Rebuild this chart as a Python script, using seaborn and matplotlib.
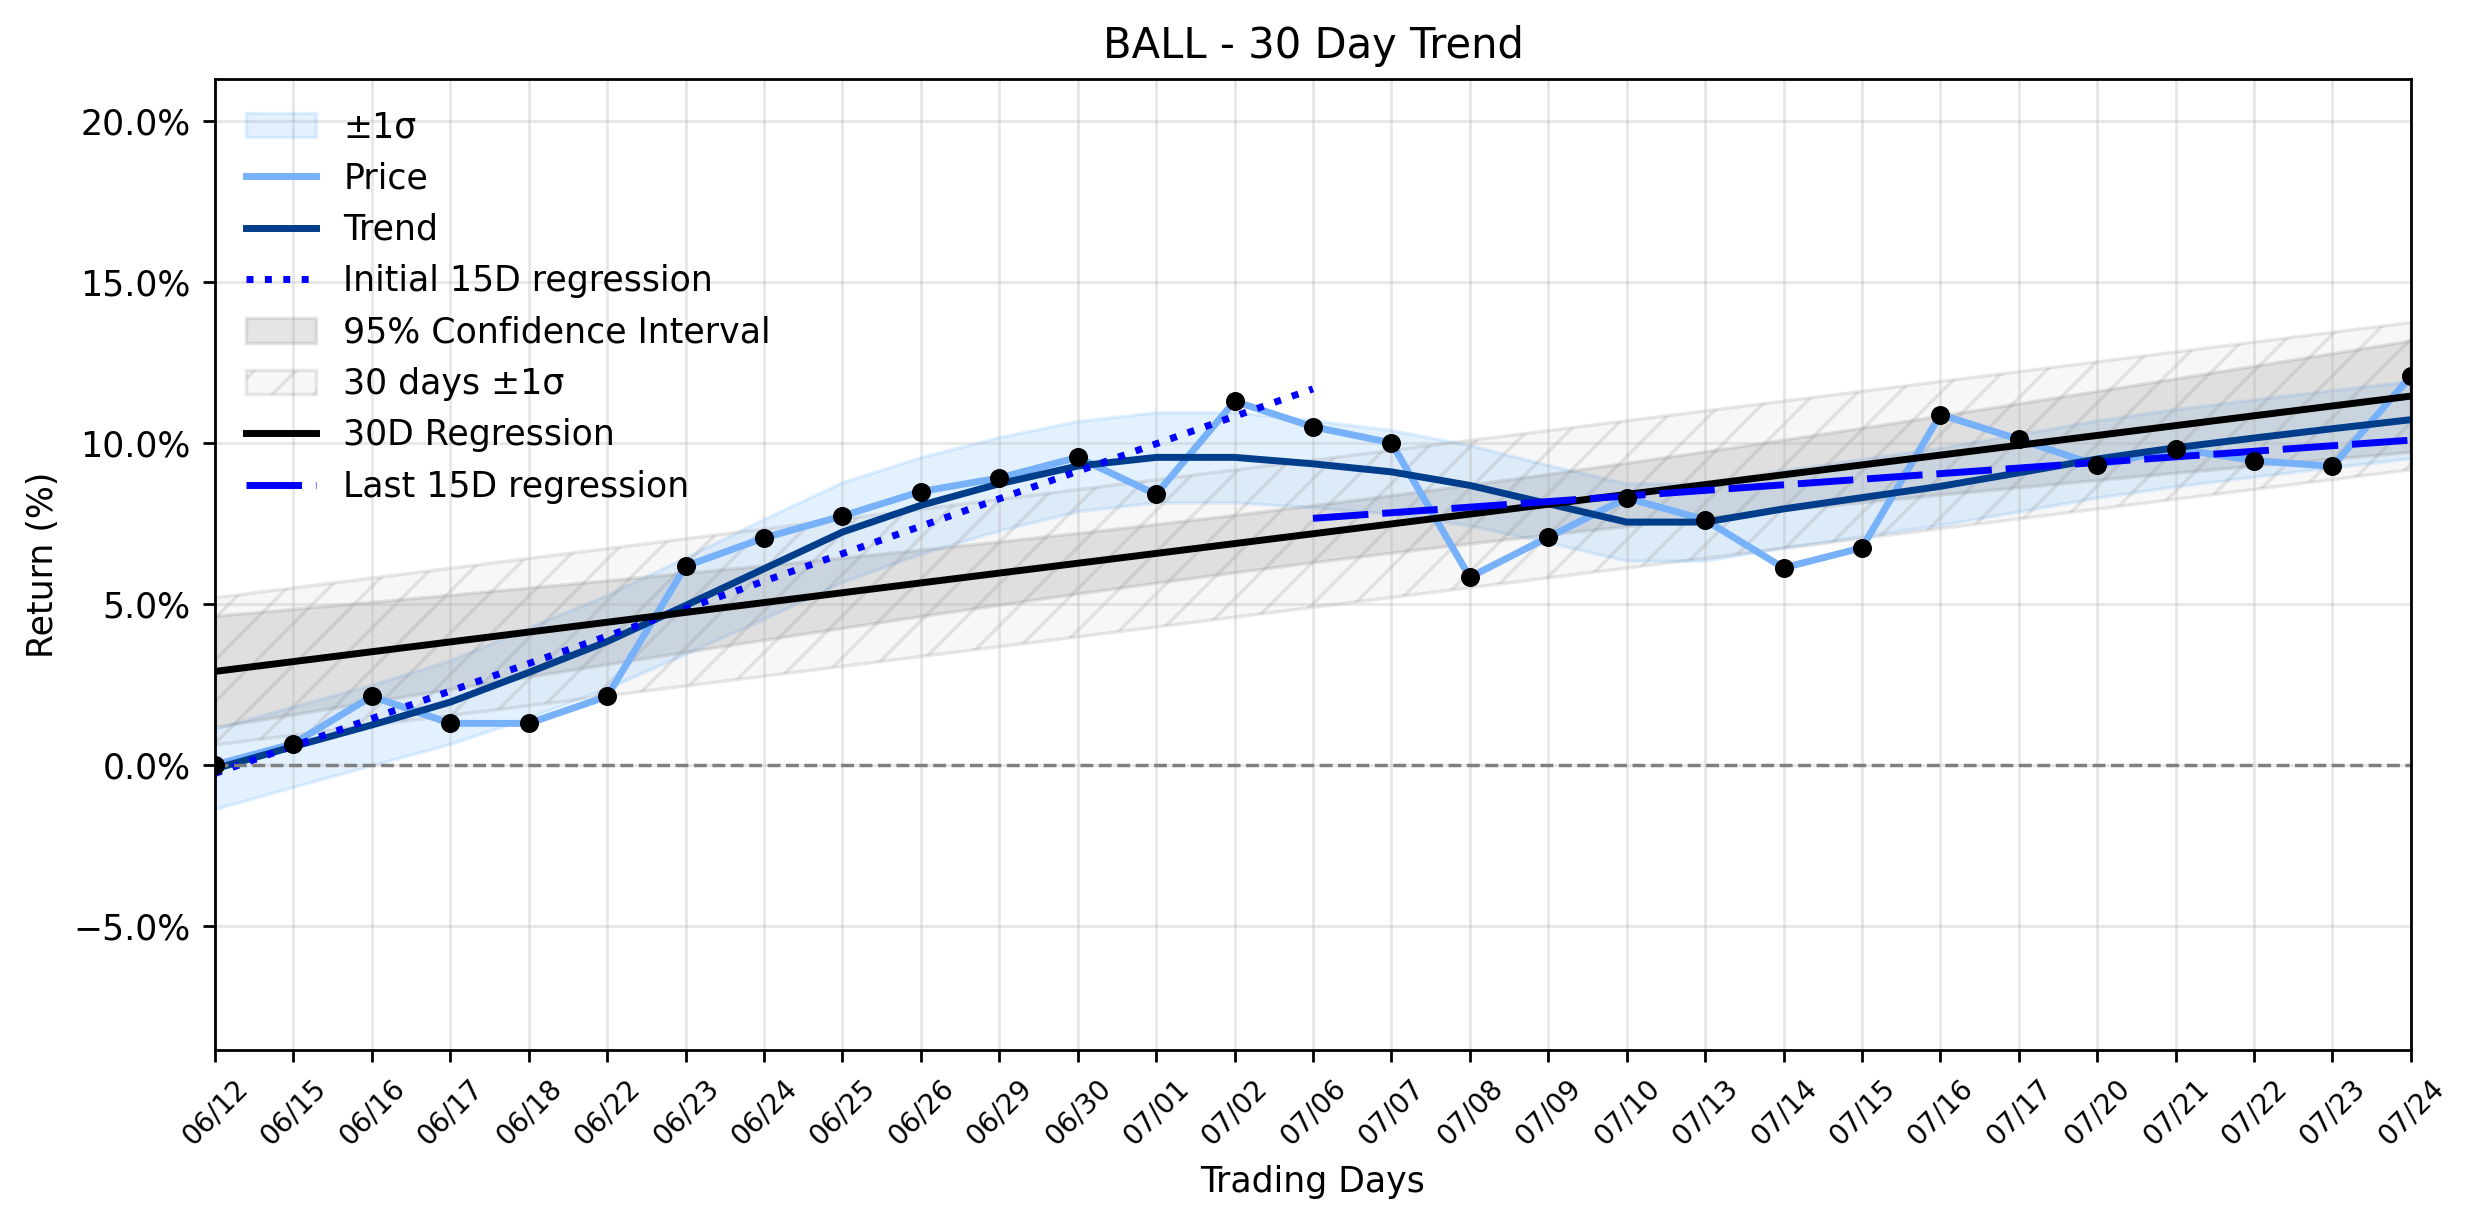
import numpy as np
import pandas as pd
import matplotlib
matplotlib.use("Agg")
import matplotlib.pyplot as plt
import seaborn as sns
from matplotlib.ticker import PercentFormatter
from matplotlib.colors import to_rgba

# ---------------- data ----------------
dates = ['06/12', '06/15', '06/16', '06/17', '06/18', '06/22', '06/23', '06/24',
         '06/25', '06/26', '06/29', '06/30', '07/01', '07/02', '07/06', '07/07',
         '07/08', '07/09', '07/10', '07/13', '07/14', '07/15', '07/16', '07/17',
         '07/20', '07/21', '07/22', '07/23', '07/24']

price = [0.00, 0.66, 2.13, 1.29, 1.29, 2.13, 6.17, 7.05, 7.73, 8.49, 8.91, 9.55,
         8.40, 11.29, 10.50, 10.00, 5.83, 7.07, 8.29, 7.61, 6.12, 6.74, 10.88,
         10.11, 9.30, 9.82, 9.45, 9.27, 12.08]

trend = [-0.12, 0.57, 1.24, 1.95, 2.87, 3.83, 4.95, 6.09, 7.23, 8.06, 8.73, 9.28,
         9.55, 9.55, 9.35, 9.10, 8.68, 8.11, 7.54, 7.54, 7.95, 8.30, 8.65, 9.07,
         9.50, 9.85, 10.15, 10.44, 10.72]

trend_sigma = [1.25, 1.25, 1.25, 1.30, 1.40, 1.45, 1.50, 1.55, 1.55, 1.50, 1.45,
               1.40, 1.40, 1.40, 1.35, 1.30, 1.25, 1.20, 1.20, 1.20, 1.20, 1.20,
               1.20, 1.20, 1.20, 1.20, 1.20, 1.20, 1.20]

window = 15
t_crit = 2.052  # 95% two-sided, 27 dof

# ---------------- derived ----------------
x = np.arange(len(dates))
p = np.array(price)
t = np.array(trend)
s = np.array(trend_sigma)
n = len(x)

c30 = np.polyfit(x, p, 1)
fit30 = np.polyval(c30, x)
resid = p - fit30
sd30 = resid.std(ddof=1)
se = np.sqrt(np.sum(resid ** 2) / (n - 2))
ci = t_crit * se * np.sqrt(1 / n + (x - x.mean()) ** 2 / np.sum((x - x.mean()) ** 2))

xi = x[:window]
ci0 = np.polyfit(xi, p[:window], 1)
xl = x[-window:]
cl = np.polyfit(xl, p[-window:], 1)

# ---------------- figure ----------------
DPI = 250
fig = plt.figure(figsize=(2474 / DPI, 1224 / DPI), dpi=DPI)
ax = fig.add_axes([0.0869, 0.1422, 0.9745 - 0.0869, 0.9355 - 0.1422])

ax.fill_between(x, t - s, t + s, color='#1E90FF', alpha=0.12, label='±1σ')
sns.lineplot(x=x, y=p, ax=ax, color='#77b1f9', lw=2, label='Price')
sns.lineplot(x=x, y=t, ax=ax, color='#003d8a', lw=2, label='Trend')
sns.lineplot(x=xi, y=np.polyval(ci0, xi), ax=ax, color='blue', lw=2,
             linestyle=':', label='Initial 15D regression')
ax.fill_between(x, fit30 - ci, fit30 + ci, color='gray', alpha=0.2,
                label='95% Confidence Interval')
ax.fill_between(x, fit30 - sd30, fit30 + sd30, facecolor=to_rgba('gray', 0.06),
                edgecolor=to_rgba('gray', 0.18), hatch='//', linewidth=1.0,
                label='30 days ±1σ')
sns.lineplot(x=x, y=fit30, ax=ax, color='black', lw=2, label='30D Regression')
sns.lineplot(x=xl, y=np.polyval(cl, xl), ax=ax, color='blue', lw=2,
             linestyle=(0, (8, 2)), label='Last 15D regression')

sns.scatterplot(x=x, y=p, ax=ax, color='black', s=30, linewidth=0, zorder=5)
ax.axhline(0, color='gray', linestyle='--', lw=1.0)

ax.set_xlim(0, n - 1)
ax.set_ylim(-8.85, 21.3)
ax.set_xticks(x)
ax.set_xticklabels(dates, rotation=45, fontsize=8)
ax.tick_params(axis='y', labelsize=10)
ax.yaxis.set_major_formatter(PercentFormatter(xmax=100, decimals=1))
ax.grid(True, alpha=0.3)
ax.set_title('BALL - 30 Day Trend', fontsize=12)
ax.set_xlabel('Trading Days', fontsize=10)
ax.set_ylabel('Return (%)', fontsize=10)

handles, labels = ax.get_legend_handles_labels()
order = ['±1σ', 'Price', 'Trend', 'Initial 15D regression', '95% Confidence Interval',
         '30 days ±1σ', '30D Regression', 'Last 15D regression']
hmap = dict(zip(labels, handles))
ax.legend([hmap[k] for k in order], order, loc='upper left', frameon=False, fontsize=10)

fig.savefig('out.png', dpi=DPI)
